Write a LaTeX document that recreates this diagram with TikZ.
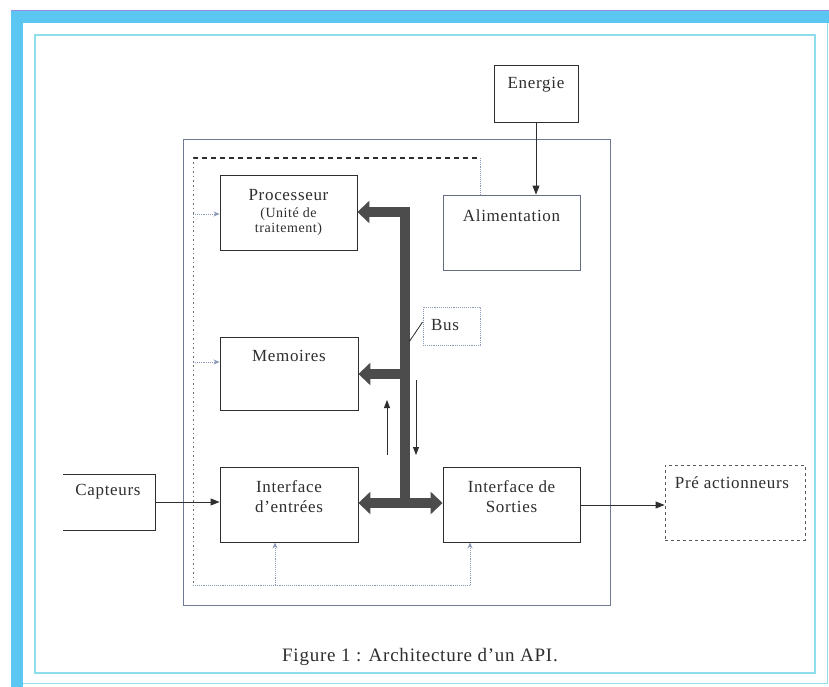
\documentclass[tikz,border=0pt]{standalone}
\usepackage{fontspec}
\setmainfont{Liberation Serif}[LetterSpace=4]
\usetikzlibrary{arrows.meta}
\definecolor{band}{HTML}{5CC6F2}
\definecolor{bandtop}{HTML}{9A8FE0}
\definecolor{frame}{HTML}{8EDDEB}
\definecolor{ink}{HTML}{2E2E2E}
\definecolor{busgray}{HTML}{4C4C4C}
\definecolor{ctrl}{HTML}{8C98B8}
\begin{document}
\begin{tikzpicture}[x=1pt,y=-1pt,
  box/.style={draw=ink,line width=0.9pt,inner sep=0pt,text=ink},
  txt/.style={font=\fontsize{17}{20}\selectfont,text=ink,align=center,inner sep=0pt},
  busline/.style={draw=busgray,line width=10pt},
  bushead/.style={-{Triangle[length=12pt,width=22pt]}},
  ctrlline/.style={draw=ctrl,line width=0.9pt,densely dotted},
  ctrlarrow/.style={ctrlline,-{Stealth[length=6pt,width=5pt]}},
  sig/.style={draw=ink,line width=0.9pt,-{Triangle[length=9pt,width=7pt]}},
  thin/.style={draw=ink,line width=0.8pt,-{Triangle[length=8pt,width=6pt]}}]
% page and frames
\useasboundingbox (0,0) rectangle (829,687);
\fill[white] (0,0) rectangle (829,687);
\fill[band] (11,10) rectangle (829,23);
\fill[band] (11,10) rectangle (23,687);
\draw[bandtop,line width=1.2pt] (11,10.6) -- (829,10.6);
\draw[frame,line width=1pt] (827,23) -- (827,683) -- (23,683);
\draw[frame,line width=1.4pt] (35,35) rectangle (815,673);

% automate outline
\draw[draw=ctrl!80!black,line width=1pt] (183,140) rectangle (610,605);

% blocks
\node[box,minimum width=84pt,minimum height=57pt] (energie) at (536,93.5) {};
\node[txt] (tEnergie) at (536,85) {Energie};
\node[box,minimum width=137pt,minimum height=75pt] (proc) at (288.5,212.5) {};
\node[txt,font=\fontsize{14}{17}\selectfont] (tProc) at (288.5,212) {{\fontsize{17}{20}\selectfont Processeur}\\(Unité de\\[-2pt]traitement)};
\node[box,draw=ctrl!60!ink,minimum width=137pt,minimum height=75pt] (alim) at (511.5,232.5) {};
\node[txt] (tAlim) at (511.5,216) {Alimentation};
\node[box,minimum width=138pt,minimum height=73pt] (mem) at (289,373.5) {};
\node[txt] (tMem) at (289,356) {Memoires};
\node[box,minimum width=138pt,minimum height=75pt] (ent) at (289,504.5) {};
\node[txt] (tEnt) at (289,497) {Interface\\d'entrées};
\node[box,minimum width=137pt,minimum height=75pt] (sor) at (511.5,504.5) {};
\node[txt] (tSor) at (511.5,497) {Interface de\\Sorties};
\node[box,draw=ctrl,densely dotted,minimum width=57pt,minimum height=38pt] (bus) at (451.5,326) {};
\node[txt] (tBus) at (445,325) {Bus};
\node[box,draw=ink!80,dashed,minimum width=140pt,minimum height=75pt] (pre) at (735,502.5) {};
\node[txt] (tPre) at (732,483) {Pré actionneurs};
% sensor block, open on its left side
\coordinate (capNW) at (63,474);
\coordinate (capSW) at (63,530);
\coordinate (capE) at (155,502);
\draw[ink,line width=1pt] (capNW) -| (155,530) -- (capSW);
\node[txt] (tCap) at (108,492) {Capteurs};

% power distribution
\coordinate (d0) at (193,158);
\coordinate (d1) at (480,158);
\coordinate (d2) at (193,585);
\coordinate (d3) at (275,585);
\coordinate (d4) at (470,585);
\draw[ink,line width=1.6pt,dash pattern=on 5pt off 4pt] (d0) -- (d1);
\draw[ctrlline] (d1) -- (alim.north -| d1);
\draw[draw=ink!70,line width=1pt,dash pattern=on 1.5pt off 3pt] (d0) -- (d2);
\draw[ctrlline] (d2) -- (d4);
\draw[ctrlarrow] (193,214) -- (proc.west |- 0,214);
\draw[ctrlarrow] (193,362) -- (mem.west |- 0,362);
\draw[ctrlarrow] (d3) -- (ent.south -| d3);
\draw[ctrlarrow] (d4) -- (sor.south -| d4);

% energy in
\draw[sig] (energie.south) -- (alim.north -| energie.south);

% internal bus
\draw[busline,bushead,line join=miter] (405,507) -- (405,212) -- (proc.east |- 0,212);
\draw[busline,bushead] (405,374) -- (mem.east |- 0,374);
\draw[busline,{Triangle[length=12pt,width=22pt]}-{Triangle[length=12pt,width=22pt]}] (ent.east |- 0,503) -- (sor.west |- 0,503);
\draw[ink,line width=0.8pt] (bus.west |- 0,322) -- (409,342);
\draw[thin] (387,455) -- (387,400);
\draw[thin] (416,380) -- (416,455);

% inputs and outputs
\draw[sig] (capE) -- (ent.west |- capE);
\draw[sig] (sor.east |- 0,505) -- (pre.west |- 0,505);

% caption
\node[font=\fontsize{19}{22}\selectfont,text=ink] (caption) at (420,657) {Figure 1 : Architecture d'un API.};
\end{tikzpicture}
\end{document}
